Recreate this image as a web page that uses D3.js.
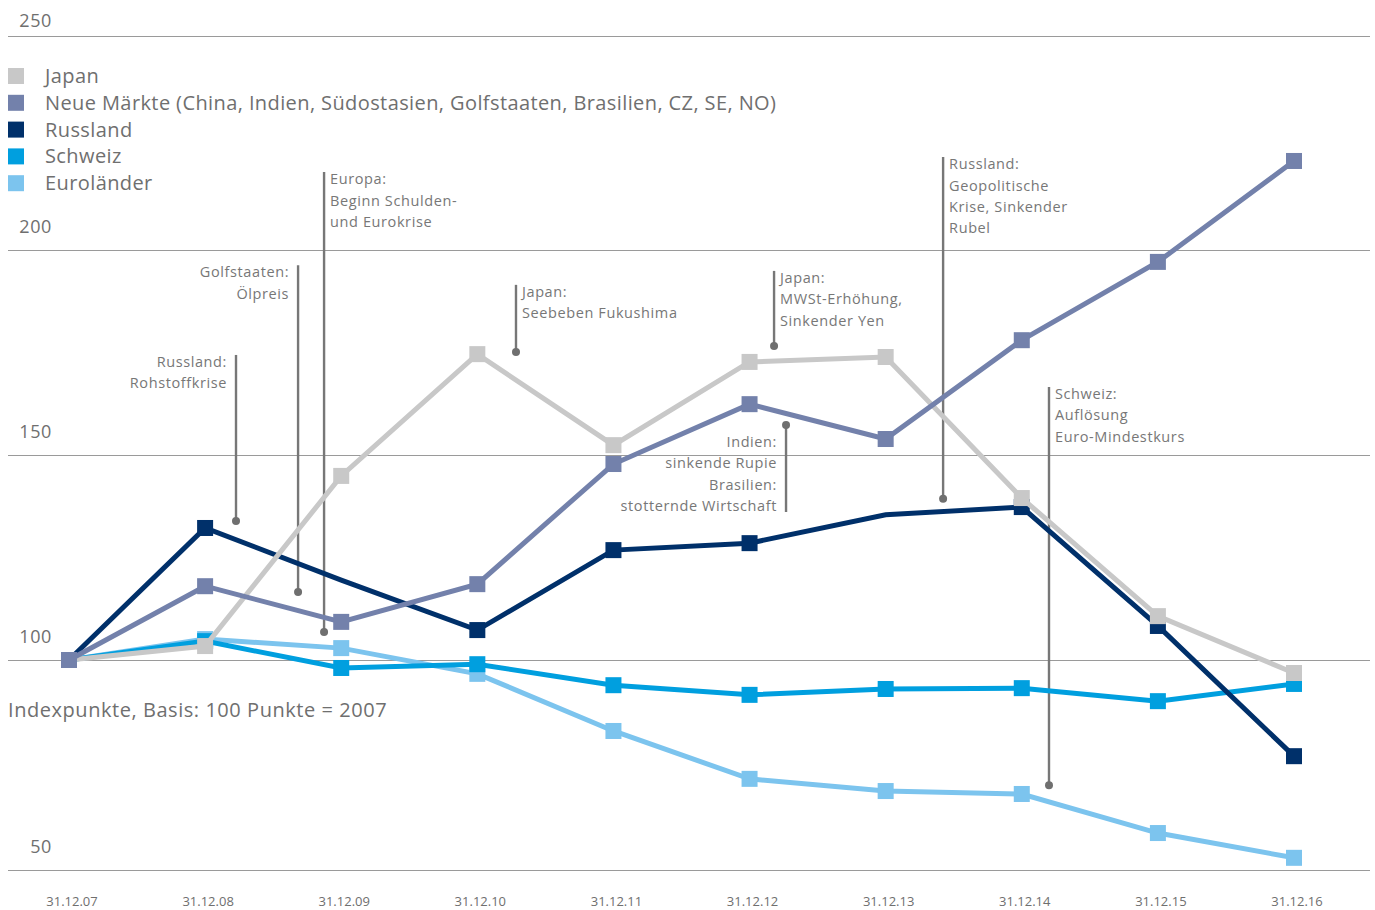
<!DOCTYPE html>
<html>
<meta charset="utf-8">
<script src="https://cdn.jsdelivr.net/npm/d3@7"></script>
<style>
body{
	margin:0;
	background:#fff;
}
text{
	font-family: "Open Sans", "DejaVu Sans", sans-serif;
	fill:#6f6f6f;
}
.legend text{ font-size:20px; letter-spacing:0.4px; }
.ytick{ font-size:18px; letter-spacing:0.6px; }
.xtick{ font-size:13px; }
.note{ font-size:14.5px; letter-spacing:0.6px; fill:#777; }
</style>
<body>
<svg id="chart" width="1375" height="910"></svg>
</body>
<script>
// dates along the x axis
const dates = ["31.12.07","31.12.08","31.12.09","31.12.10","31.12.11","31.12.12","31.12.13","31.12.14","31.12.15","31.12.16"];
const yTicks = [50, 100, 150, 200, 250];

// index values (2007 = 100)
const japan     = [100, 103.4, 144.9, 174.6, 152.4, 172.7, 173.9, 139.5, 110.7, 96.9];
const neueMarkt = [100, 118.0, 109.3, 118.5, 147.8, 162.4, 153.9, 178.0, 197.1, 220.8];
const russland  = [100, 132.2, 119.5, 107.3, 126.8, 128.5, 135.4, 137.3, 108.3, 77.1];
const schweiz   = [100, 104.6, 98.1, 99.0, 94.0, 91.7, 93.1, 93.3, 90.2, 94.3];
const euro      = [100, 105.1, 102.9, 96.7, 83.1, 71.7, 68.8, 68.1, 58.8, 52.9];

// russland has no marker on 31.12.09 and 31.12.13
const russlandNoMark = [2, 6];

const legendNames = ["Japan", "Neue Märkte (China, Indien, Südostasien, Golfstaaten, Brasilien, CZ, SE, NO)", "Russland", "Schweiz", "Euroländer"];
const colors = ["#c8c8c8", "#7381ab", "#00306a", "#009fdf", "#7cc4ee"];

// annotations: x as position between dates (index), line from top to bottom value,
// dot at "dot" end, text lines and which side the text goes
const notes = [
	{x:1.227, top:174.4, bottom:133.9, dot:"bottom", side:"left",  lines:["Russland:","Rohstoffkrise"]},
	{x:1.683, top:196.3, bottom:116.6, dot:"bottom", side:"left",  lines:["Golfstaaten:","Ölpreis"]},
	{x:1.874, top:218.2, bottom:106.8, dot:"bottom", side:"right", lines:["Europa:","Beginn Schulden-","und Eurokrise"]},
	{x:3.284, top:191.5, bottom:175.1, dot:"bottom", side:"right", lines:["Japan:","Seebeben Fukushima"]},
	{x:5.180, top:194.9, bottom:176.6, dot:"bottom", side:"right", lines:["Japan:","MWSt-Erhöhung,","Sinkender Yen"]},
	{x:5.268, top:157.3, bottom:136.1, dot:"top",    side:"left",  lines:["Indien:","sinkende Rupie","Brasilien:","stotternde Wirtschaft"]},
	{x:6.422, top:221.7, bottom:139.3, dot:"bottom", side:"right", lines:["Russland:","Geopolitische","Krise, Sinkender","Rubel"]},
	{x:7.200, top:166.6, bottom:70.2,  dot:"bottom", side:"right", lines:["Schweiz:","Auflösung","Euro-Mindestkurs"]}
];

const svg = d3.select("#chart");

const x = d3.scaleLinear().domain([0, dates.length-1]).range([69, 1294]);
// the original grid is not quite evenly spaced
const y = d3.scaleLinear().domain(yTicks).range([870, 660, 455, 250, 36]);

// grid lines
svg.append("g")
	.selectAll("line")
	.data(yTicks)
	.join("line")
	.attr("x1", 8).attr("x2", 1370)
	.attr("y1", d => Math.round(y(d)) + 0.5)
	.attr("y2", d => Math.round(y(d)) + 0.5)
	.style("stroke", "#9a9a9a")
	.style("stroke-width", "1.2px");

svg.append("g")
	.selectAll("text")
	.data(yTicks)
	.join("text")
	.attr("class", "ytick")
	.attr("text-anchor", "end")
	.attr("x", 52)
	.attr("y", d => Math.max(y(d) - 17, 27))
	.text(d => d);

// x labels
svg.append("g")
	.selectAll("text")
	.data(dates)
	.join("text")
	.attr("class", "xtick")
	.attr("text-anchor", "middle")
	.attr("x", (d, i) => x(i) + 3)
	.attr("y", 906)
	.text(d => d);

// legend
const legend = svg.append("g").attr("class", "legend");
legendNames.forEach(function(name, i){
	legend.append("rect")
		.attr("x", 8).attr("y", 68 + i*26.8)
		.attr("width", 16).attr("height", 16)
		.attr("fill", colors[i]);
	legend.append("text")
		.attr("x", 45).attr("y", 83 + i*26.8)
		.text(name);
});

svg.append("text")
	.attr("class", "ytick")
	.style("font-size", "20px")
	.style("letter-spacing", "0.55px")
	.attr("x", 8).attr("y", 717)
	.text("Indexpunkte, Basis: 100 Punkte = 2007");

// annotations
const noteG = svg.append("g");
notes.forEach(function(n){
	const nx = x(n.x);
	noteG.append("line")
		.attr("x1", nx).attr("x2", nx)
		.attr("y1", y(n.top)).attr("y2", y(n.bottom))
		.style("stroke", "#777")
		.style("stroke-width", "2.4px");
	noteG.append("circle")
		.attr("cx", nx)
		.attr("cy", n.dot == "top" ? y(n.top) : y(n.bottom))
		.attr("r", 4)
		.attr("fill", "#6f6f6f");
	const t0 = n.dot == "top" ? y(n.top) + 22 : y(n.top) + 12;
	n.lines.forEach(function(s, k){
		noteG.append("text")
			.attr("class", "note")
			.attr("text-anchor", n.side == "left" ? "end" : "start")
			.attr("x", n.side == "left" ? nx - 9 : nx + 6)
			.attr("y", t0 + k*21.4)
			.text(s);
	});
});

// series, drawn in the stacking order of the original
const series = [
	{vals: euro,      color: colors[4], skip: []},
	{vals: schweiz,   color: colors[3], skip: []},
	{vals: russland,  color: colors[2], skip: russlandNoMark},
	{vals: japan,     color: colors[0], skip: []},
	{vals: neueMarkt, color: colors[1], skip: []}
];

const line = d3.line()
	.x((d, i) => x(i))
	.y(d => y(d));

const msize = 16;
series.forEach(function(s){
	const g = svg.append("g");
	g.append("path")
		.attr("d", line(s.vals))
		.attr("fill", "none")
		.style("stroke", s.color)
		.style("stroke-width", "5px");
	g.selectAll("rect")
		.data(s.vals.map((v, i) => [i, v]).filter(d => s.skip.indexOf(d[0]) < 0))
		.join("rect")
		.attr("x", d => x(d[0]) - msize/2)
		.attr("y", d => y(d[1]) - msize/2)
		.attr("width", msize)
		.attr("height", msize)
		.attr("fill", s.color);
});
</script>
</html>
